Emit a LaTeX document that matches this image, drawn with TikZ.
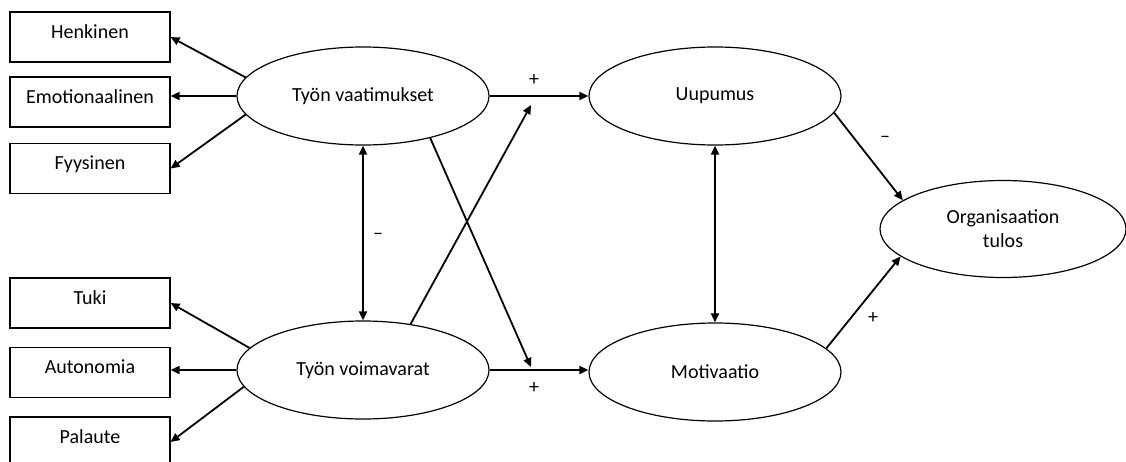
\documentclass[tikz,border=0pt]{standalone}
\usepackage{fontspec}
\setmainfont{Carlito}
\usetikzlibrary{shapes.geometric,arrows.meta}
\begin{document}
\begin{tikzpicture}[x=1pt,y=-1pt,
  font=\fontsize{20}{24}\selectfont,
  boxnode/.style={draw,line width=1.2pt,rectangle,minimum width=160pt,minimum height=50pt,inner sep=0pt,text height=12pt,text depth=10pt},
  latent/.style={draw,line width=1.2pt,ellipse,minimum width=252pt,minimum height=98pt,inner sep=0pt,align=center},
  arr/.style={line width=1.8pt,-{Triangle[length=9pt,width=8pt]}},
  darr/.style={line width=1.8pt,{Triangle[length=9pt,width=8pt]}-{Triangle[length=9pt,width=8pt]}},
  sign/.style={inner sep=0pt}]
\useasboundingbox (0,0) rectangle (1126,461);
% boxes
\node[boxnode] (hen) at (90,37) {Henkinen};
\node[boxnode] (emo) at (90,102) {Emotionaalinen};
\node[boxnode] (fyy) at (90,168.5) {Fyysinen};
\node[boxnode] (tuk) at (90,303) {Tuki};
\node[boxnode] (aut) at (90,372.5) {Autonomia};
\node[boxnode] (pal) at (90,442) {Palaute};
% latent variables
\node[latent] (vaat) at (363,96) {Työn vaatimukset};
\node[latent] (voim) at (363,370) {Työn voimavarat};
\node[latent] (uup) at (715,96) {Uupumus};
\node[latent] (mot) at (715,372) {Motivaatio};
\node[latent,minimum width=246pt,minimum height=97pt] (org) at (1003,229) {Organisaation\\tulos};
% free ends
\coordinate (x1) at (531,105);
\coordinate (x2) at (531,367);
% indicator arrows
\draw[arr] (vaat.171) -- (hen.east);
\draw[arr] (vaat.west) -- (vaat.west -| emo.east);
\draw[arr] (vaat.189) -- (fyy.east);
\draw[arr] (voim.169) -- (tuk.east);
\draw[arr] (voim.west) -- (voim.west -| aut.east);
\draw[arr] (voim.188) -- (pal.east);
% structural arrows
\draw[arr] (vaat.east) -- (uup.west);
\draw[arr] (voim.east) -- (voim.east -| mot.west);
\draw[arr] (vaat.-32) -- (x2);
\draw[arr] (voim.44) -- (x1);
\draw[darr] (vaat.south) -- (voim.north);
\draw[darr] (uup.south) -- (mot.north);
\draw[arr] (uup.-8) -- (org.164);
\draw[arr] (mot.12) -- (org.195);
% signs
\node[sign] (s1) at (534,80) {+};
\node[sign] (s2) at (534,388) {+};
\node[sign] (s3) at (378,236) {–};
\node[sign] (s4) at (885,139) {–};
\node[sign] (s5) at (873,318) {+};
\end{tikzpicture}
\end{document}
